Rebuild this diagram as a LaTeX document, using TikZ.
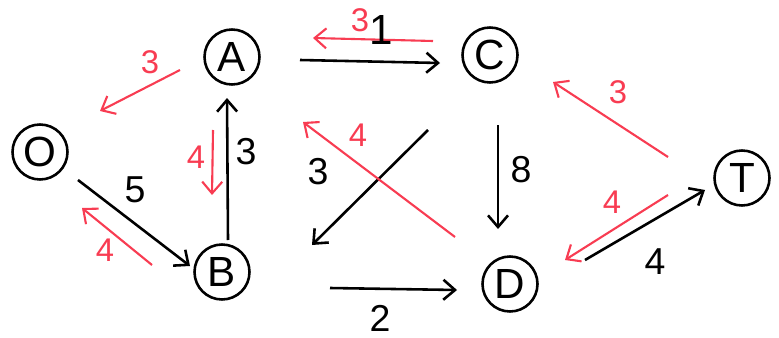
\documentclass[tikz,border=0pt]{standalone}
\usepackage{fontspec}
\setmainfont{Liberation Sans}
\usepackage{tikz}
\usetikzlibrary{arrows.meta,calc}
\definecolor{penred}{RGB}{248,60,82}

\begin{document}
\begin{tikzpicture}[x=0.3mm,y=-0.3mm,
    vertex/.style={draw, circle, line width=2.2pt, minimum size=16.5mm, inner sep=0pt, font=\fontsize{36}{36}\selectfont},
    flow/.style={line width=2.2pt, -{Straight Barb[length=3.5mm,width=6mm]}},
    resid/.style={penred, line width=1.8pt, -{Straight Barb[length=3.5mm,width=6mm]}},
    num/.style={font=\fontsize{32}{32}\selectfont},
    rnum/.style={font=\fontsize{28}{28}\selectfont, text=penred}]
        \useasboundingbox (0,0) rectangle (779,338);

        % Vertices
        \node[vertex] (O) at (40,152) {O};
        \node[vertex] (A) at (232,57) {A};
        \node[vertex] (C) at (490,55) {C};
        \node[vertex] (B) at (222,272) {B};
        \node[vertex] (D) at (510,284) {D};
        \node[vertex] (T) at (742,178) {T};

        % Flow edges
        \draw[flow] ($(A)+(68,3)$) -- ($(C)+(-50,8)$);
        \draw[flow] ($(B)+(6,-32)$) -- ($(A)+(-5,41)$);
        \draw[flow] ($(O)+(38,28)$) -- ($(B)+(-32,-6)$);
        \draw[flow] ($(C)+(-62,75)$) -- ($(B)+(90,-27)$);
        \draw[flow] ($(C)+(8,70)$) -- ($(D)+(-12,-55)$);
        \draw[flow] ($(B)+(108,16)$) -- ($(D)+(-53,6)$);
        \draw[flow] ($(D)+(75,-24)$) -- ($(T)+(-37,12)$);

        % Residual edges
        \draw[resid] ($(C)+(-57,-14)$) -- ($(A)+(81,-19)$);
        \draw[resid] ($(A)+(-52,13)$) -- ($(O)+(60,-41)$);
        \draw[resid] ($(A)+(-19,73)$) -- ($(B)+(-10,-77)$);
        \draw[resid] ($(B)+(-70,-7)$) -- ($(O)+(42,56)$);
        \draw[resid] ($(D)+(-55,-47)$) -- ($(A)+(71,65)$);
        \draw[resid] ($(T)+(-74,-21)$) -- ($(C)+(63,27)$);
        \draw[resid] ($(T)+(-74,17)$) -- ($(D)+(55,-24)$);

        % Capacities
        \node[num, font=\fontsize{36}{36}\selectfont] (nAC) at (381,30) {1};
        \node[num] (nBA) at (246,152) {3};
        \node[num] (nOB) at (135,190) {5};
        \node[num] (nCB) at (318,172) {3};
        \node[num] (nCD) at (521,170) {8};
        \node[num] (nBD) at (380,318) {2};
        \node[num] (nDT) at (655,262) {4};

        % Residual amounts
        \node[rnum] (rCA) at (360,20) {3};
        \node[rnum] (rAO) at (150,62) {3};
        \node[rnum] (rAB) at (196,157) {4};
        \node[rnum] (rBO) at (105,250) {4};
        \node[rnum] (rDA) at (358,135) {4};
        \node[rnum] (rTC) at (618,92) {3};
        \node[rnum] (rTD) at (612,202) {4};
\end{tikzpicture}
\end{document}
